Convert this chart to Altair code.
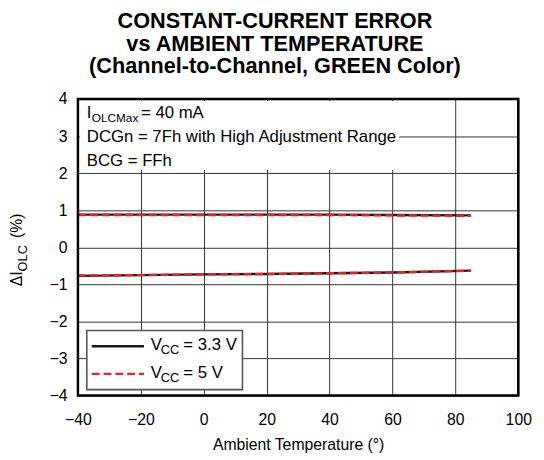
import altair as alt
import pandas as pd

# ---- data ----
temps = [-40, -20, 0, 20, 40, 60, 85]
v33_upper = [0.88, 0.88, 0.88, 0.88, 0.88, 0.87, 0.86]
v33_lower = [-0.77, -0.75, -0.73, -0.72, -0.70, -0.68, -0.63]
v5_upper = [0.87, 0.87, 0.87, 0.87, 0.87, 0.86, 0.85]
v5_lower = [-0.76, -0.75, -0.73, -0.72, -0.70, -0.68, -0.63]

x_ticks = [-40, -20, 0, 20, 40, 60, 80, 100]
y_ticks = [-4, -3, -2, -1, 0, 1, 2, 3, 4]

title_lines = ["CONSTANT-CURRENT ERROR", "vs AMBIENT TEMPERATURE",
               "(Channel-to-Channel, GREEN Color)"]
x_title = "Ambient Temperature (°)"
legend_labels = ["3.3 V", "5 V"]

FONT = "Liberation Sans"
W, H = 447, 301

rows = []
for t, a, b, c, d in zip(temps, v33_upper, v33_lower, v5_upper, v5_lower):
    rows.append(dict(temp=t, val=a, vcc="3.3", grp="up"))
    rows.append(dict(temp=t, val=b, vcc="3.3", grp="low"))
    rows.append(dict(temp=t, val=c, vcc="5", grp="up"))
    rows.append(dict(temp=t, val=d, vcc="5", grp="low"))
df = pd.DataFrame(rows)

one = pd.DataFrame({"a": [0]})

xenc = alt.X("temp:Q",
             scale=alt.Scale(domain=[-40, 100], nice=False, zero=False),
             axis=alt.Axis(values=x_ticks, title=x_title, grid=True,
                           gridColor="#333", gridWidth=1, gridOpacity=1,
                           ticks=False, tickSize=0, domain=False,
                           labelOverlap=False,
                           labelFont=FONT, labelFontSize=16, labelColor="#000",
                           labelPadding=16, labelFlush=False,
                           titleFont=FONT, titleFontSize=16,
                           titleFontWeight="normal", titleColor="#000",
                           titlePadding=10))
yenc = alt.Y("val:Q",
             scale=alt.Scale(domain=[-4, 4], nice=False, zero=False),
             axis=alt.Axis(values=y_ticks, tickCount=9, title=None, grid=True,
                           gridColor="#333", gridWidth=1, gridOpacity=1,
                           ticks=False, tickSize=0, domain=False,
                           labelOverlap=False,
                           labelFont=FONT, labelFontSize=16, labelColor="#000",
                           labelPadding=11, labelFlush=False))

black = alt.Chart(df).transform_filter(alt.datum.vcc == "3.3").mark_line(
    color="#1a1a1a", strokeWidth=2.4).encode(x=xenc, y=yenc, detail="grp:N")
red = alt.Chart(df).transform_filter(alt.datum.vcc == "5").mark_line(
    color="#e8232a", strokeWidth=2.4, strokeDash=[8, 4]).encode(
    x=xenc, y=yenc, detail="grp:N")

# white box behind annotation text
ann_box = alt.Chart(one).mark_rect(fill="white").encode(
    x=alt.value(2), x2=alt.value(326), y=alt.value(2), y2=alt.value(72))


def txt(s, x, y, size=17, weight="normal", align="left", angle=0, color="#000"):
    return alt.Chart(one).mark_text(
        text=s, font=FONT, fontSize=size, fontWeight=weight, align=align,
        baseline="alphabetic", angle=angle, color=color).encode(
        x=alt.value(x), y=alt.value(y))


ann = [
    txt("I", 9, 19),
    txt("OLCMax", 14, 23, size=12),
    txt("= 40 mA", 64, 19),
    txt("DCGn = 7Fh with High Adjustment Range", 9, 44),
    txt("BCG = FFh", 9, 68),
]

# title
title = [txt(s, 200, -72 + 23 * i, size=22, weight="bold", align="center")
         for i, s in enumerate(title_lines)]

# y axis title (rotated)
ytitle = [
    txt("ΔI", -57, 190, size=16, angle=270),
    txt("OLC", -52, 175, size=13, angle=270),
    txt("(%)", -57, 141, size=16, angle=270),
]

# legend
leg_box = alt.Chart(one).mark_rect(fill="white", stroke="#555", strokeWidth=1.6).encode(
    x=alt.value(9), x2=alt.value(167), y=alt.value(235), y2=alt.value(295))
leg_l1 = alt.Chart(one).mark_rule(color="#1a1a1a", strokeWidth=2.4).encode(
    x=alt.value(14), x2=alt.value(67), y=alt.value(251))
leg_l2 = alt.Chart(one).mark_rule(color="#e8232a", strokeWidth=2.4, strokeDash=[8, 4]).encode(
    x=alt.value(14), x2=alt.value(67), y=alt.value(279))
leg_txt = [
    txt("V", 74, 255, size=17),
    txt("CC", 84, 259, size=13),
    txt("= " + legend_labels[0], 107, 255, size=17),
    txt("V", 74, 283, size=17),
    txt("CC", 84, 287, size=13),
    txt("= " + legend_labels[1], 107, 283, size=17),
]

frame = alt.Chart(one).mark_rect(fill=None, stroke="#000", strokeWidth=2.5).encode(
    x=alt.value(0), x2=alt.value(W), y=alt.value(0), y2=alt.value(H))

chart = alt.layer(
    black, red, ann_box, *ann, *title, *ytitle,
    leg_box, leg_l1, leg_l2, *leg_txt, frame
).properties(
    width=W, height=H, autosize=alt.AutoSizeParams(type="none"),
    padding={"left": 71, "top": 89, "right": 18, "bottom": 62}
).configure_view(stroke=None).configure(background="white")

chart.save("out.html", embed_options={"renderer": "svg", "actions": False})
